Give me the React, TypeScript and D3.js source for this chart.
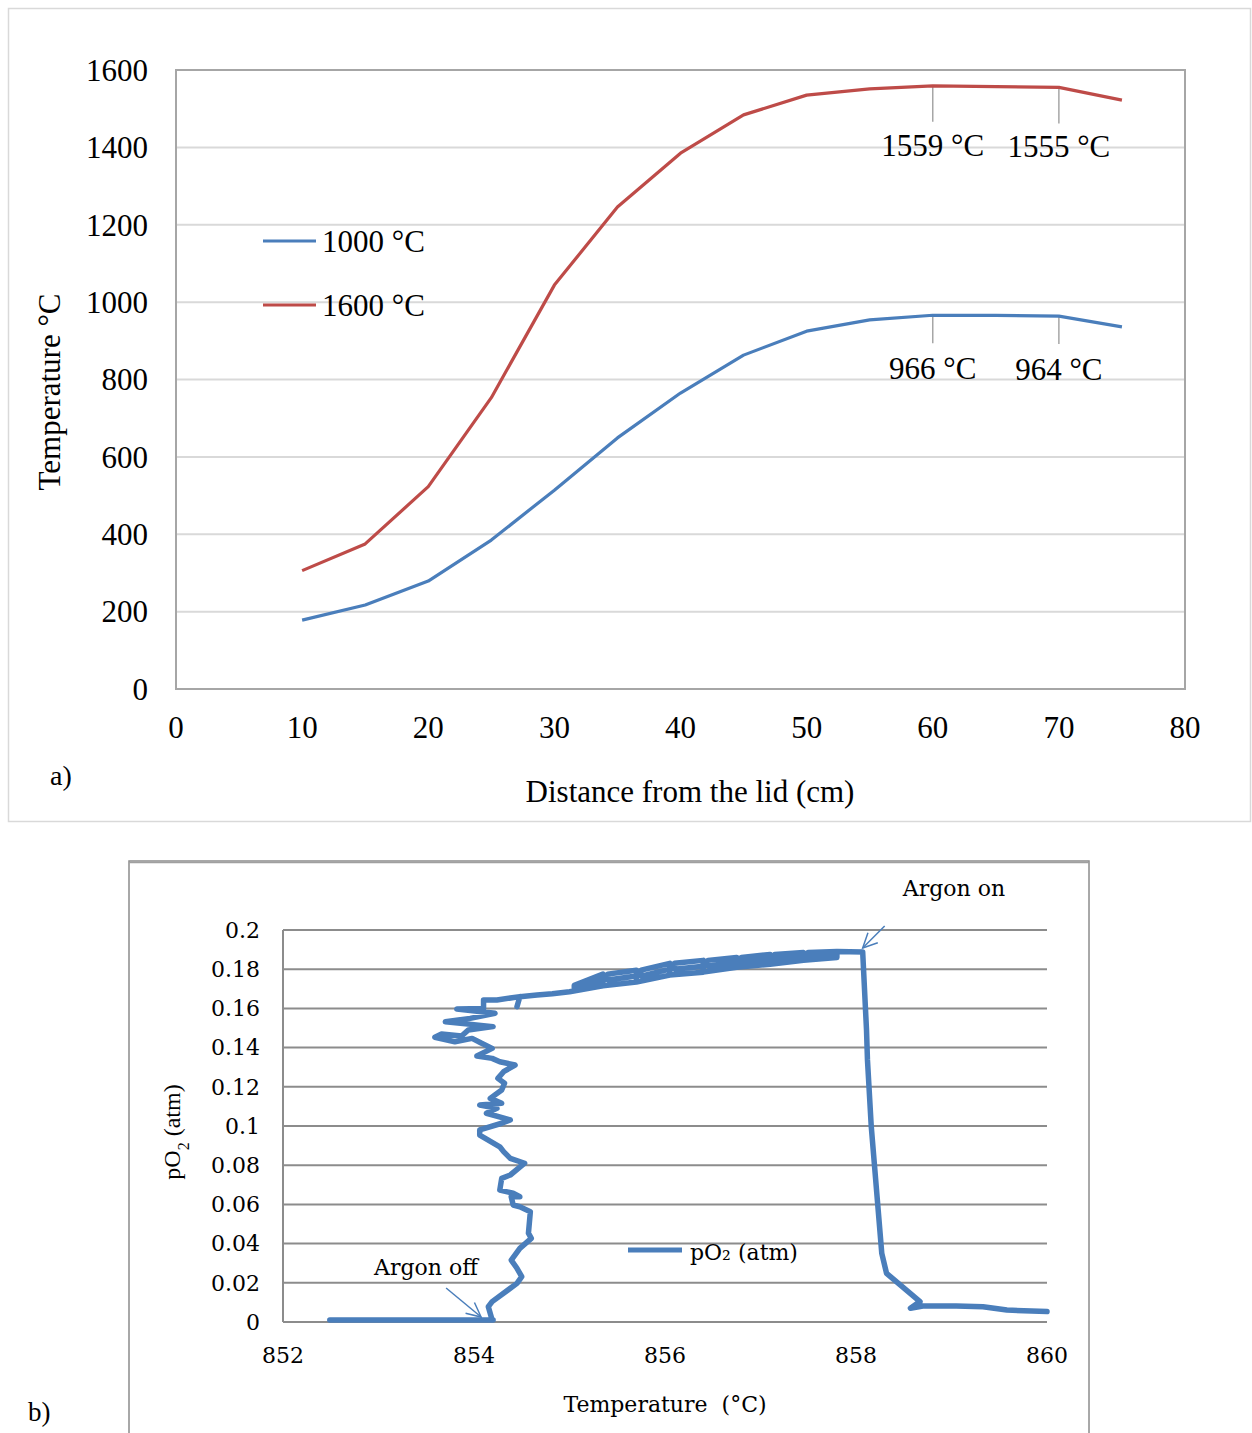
import React from 'react';
import * as d3 from 'd3';

// panel a) temperature profiles
const distance = [10, 15, 20, 25, 30, 35, 40, 45, 50, 55, 60, 65, 70, 75];
const temp1000 = [178, 217, 279, 385, 514, 649, 765, 863, 925, 954, 966, 966, 964, 936];
const temp1600 = [306, 375, 523, 753, 1044, 1246, 1385, 1484, 1535, 1551, 1559, 1557, 1555, 1522];
const topXTicks = [0, 10, 20, 30, 40, 50, 60, 70, 80];
const topYTicks = [0, 200, 400, 600, 800, 1000, 1200, 1400, 1600];
const peakDistance = [60, 70];
const peak1600Text = ['1559 °C', '1555 °C'];
const peak1000Text = ['966 °C', '964 °C'];

// panel b) pO2 against temperature (traced from the logger curve)
const pO2Temp = [
  852.49, 854.2, 854.19, 854.15, 854.19, 854.45, 854.5, 854.45, 854.39, 854.48,
  854.6, 854.57, 854.59, 854.48, 854.41, 854.39, 854.48, 854.41, 854.27, 854.29,
  854.38, 854.53, 854.38, 854.31, 854.27, 854.06, 854.06, 854.29, 854.38, 854.13,
  854.24, 854.06, 854.29, 854.17, 854.29, 854.32, 854.25, 854.31, 854.43, 854.27,
  854.19, 854.03, 854.19, 854.08, 853.98, 853.8, 853.59, 853.66, 853.87, 853.94,
  854.2, 853.7, 853.96, 854.22, 853.82, 854.1, 854.1, 854.24, 854.48, 854.45,
  854.48, 854.66, 854.82,
  855.0, 855.35, 855.35, 855.05, 855.05, 855.35, 855.35, 855.7, 855.7, 855.4,
  855.4, 855.7, 855.7, 856.05, 856.05, 855.75, 855.75, 856.05, 856.05, 856.4,
  856.4, 856.1, 856.1, 856.4, 856.4, 856.75, 856.75, 856.45, 856.45, 856.75,
  856.75, 857.1, 857.1, 856.8, 856.8, 857.1, 857.1, 857.45, 857.45, 857.15,
  857.15, 857.45, 857.45, 857.8, 857.8, 857.5, 857.5, 857.8, 858.07,
  858.11, 858.12, 858.16, 858.27, 858.32, 858.67, 858.57, 858.7, 859.05, 859.33,
  859.58, 860.0,
];
const pO2Value = [
  0.001, 0.001, 0.001, 0.0078, 0.0104, 0.0197, 0.0231, 0.0274, 0.0316, 0.0376,
  0.0427, 0.0453, 0.0563, 0.0588, 0.0597, 0.0639, 0.0639, 0.0657, 0.0673, 0.0733,
  0.075, 0.081, 0.0835, 0.0869, 0.0894, 0.0954, 0.098, 0.1014, 0.1031, 0.1065,
  0.109, 0.1107, 0.1116, 0.1141, 0.1184, 0.1218, 0.1243, 0.1277, 0.1311, 0.1328,
  0.1345, 0.1357, 0.1396, 0.1422, 0.1447, 0.143, 0.1453, 0.1469, 0.1459, 0.149,
  0.1507, 0.1532, 0.1549, 0.1575, 0.1597, 0.16, 0.1643, 0.1643, 0.166, 0.1609,
  0.166, 0.1668, 0.1675,
  0.1685, 0.1715, 0.1745, 0.1702, 0.1718, 0.1775, 0.1715, 0.1735, 0.1765, 0.1745,
  0.1775, 0.1795, 0.1735, 0.177, 0.18, 0.1765, 0.1795, 0.183, 0.177, 0.1785,
  0.1815, 0.18, 0.183, 0.1845, 0.1785, 0.181, 0.1835, 0.1815, 0.1845, 0.186,
  0.181, 0.1825, 0.185, 0.1835, 0.186, 0.1875, 0.1825, 0.1845, 0.1865, 0.185,
  0.1875, 0.1885, 0.1845, 0.186, 0.1875, 0.1865, 0.1885, 0.189, 0.1888,
  0.149, 0.1337, 0.0996, 0.035, 0.0248, 0.0104, 0.007, 0.0082, 0.0082, 0.0078,
  0.0061, 0.0053,
];
const bottomXTicks = [852, 854, 856, 858, 860];
const bottomYTicks = [0, 0.02, 0.04, 0.06, 0.08, 0.1, 0.12, 0.14, 0.16, 0.18, 0.2];

const BLUE = '#4a7ebb';
const RED = '#be4b48';
const TIMES = '"Liberation Serif", "Times New Roman", serif';
const CAMBRIA = '"DejaVu Serif", serif';

function Arrow({ x1, y1, x2, y2 }: { x1: number; y1: number; x2: number; y2: number }) {
  const ang = Math.atan2(y2 - y1, x2 - x1);
  const len = 16;
  const spread = 0.45;
  const w1 = [x2 - len * Math.cos(ang - spread), y2 - len * Math.sin(ang - spread)];
  const w2 = [x2 - len * Math.cos(ang + spread), y2 - len * Math.sin(ang + spread)];
  return (
    <g stroke={BLUE} strokeWidth={1.5} fill="none">
      <line x1={x1} y1={y1} x2={x2} y2={y2} />
      <polyline points={`${w1[0]},${w1[1]} ${x2},${y2} ${w2[0]},${w2[1]}`} />
    </g>
  );
}

export default function App() {
  // top chart
  const x = d3.scaleLinear().domain([0, 80]).range([176, 1185]);
  const y = d3.scaleLinear().domain([0, 1600]).range([689, 70]);
  const topLine = d3
    .line<number>()
    .x((_, i) => x(distance[i]))
    .y((d) => y(d));

  // bottom chart
  const xb = d3.scaleLinear().domain([852, 860]).range([283, 1047]);
  const yb = d3.scaleLinear().domain([0, 0.2]).range([1322, 930]);
  const pO2Line = d3
    .line<number>()
    .x((_, i) => xb(pO2Temp[i]))
    .y((d) => yb(d));

  const onTipX = xb(858.07);
  const onTipY = yb(0.1888) - 4;
  const offTipX = xb(854.2) - 12;
  const offTipY = yb(0.001) - 3;

  return (
    <svg
      width={1252}
      height={1433}
      style={{ position: 'absolute', left: 0, top: 0, background: '#fff' }}
    >
      {/* ---------- a) ---------- */}
      <rect x={8.5} y={8.5} width={1242} height={813} fill="#fff" stroke="#d9d9d9" strokeWidth={1.5} />
      {topYTicks.slice(1, -1).map((t) => (
        <line key={t} x1={x(0)} x2={x(80)} y1={y(t)} y2={y(t)} stroke="#d9d9d9" strokeWidth={2} />
      ))}
      <rect
        x={x(0)}
        y={y(1600)}
        width={x(80) - x(0)}
        height={y(0) - y(1600)}
        fill="none"
        stroke="#a6a6a6"
        strokeWidth={2}
      />
      <g fontFamily={TIMES} fontSize={31} fill="#000">
        {topYTicks.map((t) => (
          <text key={t} x={148} y={y(t)} dy="0.35em" textAnchor="end">
            {t}
          </text>
        ))}
        {topXTicks.map((t) => (
          <text key={t} x={x(t)} y={738} textAnchor="middle">
            {t}
          </text>
        ))}
        <text x={690} y={802} textAnchor="middle">
          Distance from the lid (cm)
        </text>
        <text transform={`translate(60,392) rotate(-90)`} textAnchor="middle">
          Temperature °C
        </text>
        <text x={50} y={785} fontSize={28}>
          a)
        </text>
      </g>

      {/* leader lines and peak labels */}
      {peakDistance.map((d, i) => {
        const idx = distance.indexOf(d);
        return (
          <g key={d}>
            <line x1={x(d)} x2={x(d)} y1={y(temp1600[idx])} y2={y(temp1600[idx]) + 36} stroke="#a6a6a6" strokeWidth={1.5} />
            <line x1={x(d)} x2={x(d)} y1={y(temp1000[idx])} y2={y(temp1000[idx]) + 28} stroke="#a6a6a6" strokeWidth={1.5} />
            <text x={x(d)} y={y(temp1600[idx]) + 70} textAnchor="middle" fontFamily={TIMES} fontSize={31}>
              {peak1600Text[i]}
            </text>
            <text x={x(d)} y={y(temp1000[idx]) + 64} textAnchor="middle" fontFamily={TIMES} fontSize={31}>
              {peak1000Text[i]}
            </text>
          </g>
        );
      })}

      <path d={topLine(temp1000) ?? ''} fill="none" stroke={BLUE} strokeWidth={3.2} strokeLinejoin="round" />
      <path d={topLine(temp1600) ?? ''} fill="none" stroke={RED} strokeWidth={3.2} strokeLinejoin="round" />

      {/* legend */}
      <line x1={263} x2={316} y1={241} y2={241} stroke={BLUE} strokeWidth={3.2} />
      <text x={322} y={241} dy="0.35em" fontFamily={TIMES} fontSize={31}>
        1000 °C
      </text>
      <line x1={263} x2={316} y1={305} y2={305} stroke={RED} strokeWidth={3.2} />
      <text x={322} y={305} dy="0.35em" fontFamily={TIMES} fontSize={31}>
        1600 °C
      </text>

      {/* ---------- b) ---------- */}
      <rect x={129} y={861} width={960} height={600} fill="#fff" stroke="#8c8c8c" strokeWidth={1.5} />
      <line x1={129} x2={1089} y1={862.5} y2={862.5} stroke="#a0a0a0" strokeWidth={1.5} />
      {bottomYTicks.map((t) => (
        <line key={t} x1={xb(852)} x2={xb(860)} y1={yb(t)} y2={yb(t)} stroke="#8c8c8c" strokeWidth={2} />
      ))}
      <line x1={xb(852)} x2={xb(852)} y1={yb(0.2)} y2={yb(0)} stroke="#8c8c8c" strokeWidth={2} />
      <g fontFamily={CAMBRIA} fontSize={22} fill="#000">
        {bottomYTicks.map((t) => (
          <text key={t} x={260} y={yb(t)} dy="0.35em" textAnchor="end">
            {String(+t.toFixed(2))}
          </text>
        ))}
        {bottomXTicks.map((t) => (
          <text key={t} x={xb(t)} y={1363} textAnchor="middle">
            {t}
          </text>
        ))}
        <text x={665} y={1412} textAnchor="middle" style={{ whiteSpace: 'pre' }}>
          {'Temperature  (°C)'}
        </text>
        <text x={954} y={896} textAnchor="middle">
          Argon on
        </text>
        <text x={426} y={1275} textAnchor="middle">
          Argon off
        </text>
        <text x={690} y={1252} dy="0.35em">
          pO₂ (atm)
        </text>
        <text x={28} y={1421} fontFamily={TIMES} fontSize={27}>
          b)
        </text>
      </g>
      <text transform="translate(180,1132) rotate(-90)" textAnchor="middle" fontFamily={TIMES} fontSize={24}>
        pO
        <tspan baselineShift="sub" fontSize={16}>
          2
        </tspan>
        <tspan> (atm)</tspan>
      </text>

      <path
        d={pO2Line(pO2Value) ?? ''}
        fill="none"
        stroke={BLUE}
        strokeWidth={5.5}
        strokeLinejoin="round"
        strokeLinecap="round"
      />
      <line x1={628} x2={682} y1={1250} y2={1250} stroke={BLUE} strokeWidth={5} />

      <Arrow x1={onTipX + 22} y1={onTipY - 22} x2={onTipX} y2={onTipY} />
      <Arrow x1={offTipX - 35} y1={offTipY - 29} x2={offTipX} y2={offTipY} />
    </svg>
  );
}
